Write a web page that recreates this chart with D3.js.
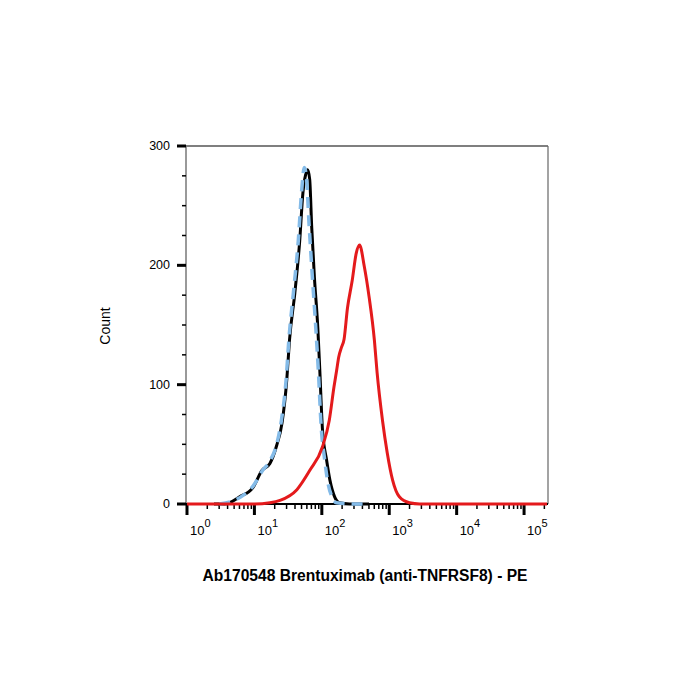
<!DOCTYPE html>
<html>
<head>
<meta charset="utf-8">
<script src="https://cdn.jsdelivr.net/npm/d3@7"></script>
<style>
  body { margin: 0; background: #fff; }
  text { font-family: "Liberation Sans", Arial, sans-serif; }
</style>
</head>
<body>
<script>
// Histogram data: x = log10(PE intensity), y = count
var isoX = [0.40, 0.56, 0.78, 0.98, 1.11, 1.23, 1.33, 1.41, 1.48, 1.52, 1.60, 1.67, 1.72, 1.76, 1.79, 1.82, 1.85, 1.89, 1.94, 1.97, 2.01, 2.07, 2.12, 2.19, 2.26, 2.41, 2.70];
var isoY = [0, 0, 6, 14, 28, 34, 49, 68, 104, 137, 177, 219, 261, 276, 280, 272, 232, 190, 148, 112, 62, 37, 20, 6, 1, 0, 0];

var blankX = [0.48, 0.65, 0.80, 0.98, 1.12, 1.23, 1.33, 1.40, 1.47, 1.51, 1.58, 1.65, 1.70, 1.74, 1.77, 1.81, 1.86, 1.91, 1.95, 1.99, 2.04, 2.09, 2.15, 2.22, 2.50, 2.70];
var blankY = [0, 2, 6, 15, 28, 36, 50, 70, 104, 137, 178, 220, 262, 282, 275, 235, 190, 148, 110, 65, 38, 18, 6, 1, 0, 0];

var abX = [0.0, 1.0, 1.23, 1.38, 1.63, 1.82, 2.01, 2.11, 2.18, 2.22, 2.25, 2.29, 2.33, 2.38, 2.45, 2.51, 2.56, 2.63, 2.70, 2.78, 2.82, 2.90, 2.97, 3.05, 3.15, 3.30, 3.45, 5.34];
var abY = [0, 0, 1, 3, 12, 28, 48, 70, 98, 112, 123, 131, 138, 164, 187, 210, 217, 199, 174, 137, 110, 70, 43, 20, 6, 1, 0, 0];

var yMajor = [0, 100, 200, 300];
var yMinor = [25, 50, 75, 125, 150, 175, 225, 250, 275];
var decades = [0, 1, 2, 3, 4, 5];

var xAxisTitle = "Ab170548 Brentuximab (anti-TNFRSF8) - PE";
var yAxisTitle = "Count";

// layout
var pLeft = 186, pRight = 548, pTop = 146, pBottom = 504;

var svg = d3.select("body").append("svg")
  .attr("width", 700)
  .attr("height", 700);

var x = d3.scaleLinear().domain([0, 5.355]).range([pLeft + 1, pRight]);
var y = d3.scaleLinear().domain([0, 300]).range([pBottom, pTop]);

// frame
svg.append("line").attr("x1", pLeft).attr("x2", pRight).attr("y1", pTop).attr("y2", pTop)
  .attr("stroke", "#000").attr("stroke-width", 1.2);
svg.append("line").attr("x1", pRight).attr("x2", pRight).attr("y1", pTop).attr("y2", pBottom)
  .attr("stroke", "#666").attr("stroke-width", 1.2);
svg.append("line").attr("x1", pLeft).attr("x2", pLeft).attr("y1", pTop).attr("y2", pBottom)
  .attr("stroke", "#777").attr("stroke-width", 1.5);
svg.append("line").attr("x1", pLeft - 8).attr("x2", pRight).attr("y1", pBottom).attr("y2", pBottom)
  .attr("stroke", "#000").attr("stroke-width", 2);

// y ticks
svg.selectAll(".ymaj").data(yMajor).enter().append("line")
  .attr("x1", pLeft - 9).attr("x2", pLeft)
  .attr("y1", d => y(d)).attr("y2", d => y(d))
  .attr("stroke", "#000").attr("stroke-width", 3);
svg.selectAll(".ymin").data(yMinor).enter().append("line")
  .attr("x1", pLeft - 4).attr("x2", pLeft)
  .attr("y1", d => y(d)).attr("y2", d => y(d))
  .attr("stroke", "#000").attr("stroke-width", 1.5);
svg.selectAll(".ylab").data(yMajor).enter().append("text")
  .attr("x", pLeft - 16).attr("y", d => y(d) + 4)
  .attr("text-anchor", "end").attr("font-size", 12.5).attr("fill", "#000")
  .text(d => d);

// x ticks
var minors = [];
decades.forEach(function(d) {
  if (d < 5) for (var k = 2; k <= 9; k++) minors.push(d + Math.log10(k));
});
minors.push(5 + Math.log10(2));
svg.selectAll(".xmin").data(minors).enter().append("line")
  .attr("x1", d => x(d)).attr("x2", d => x(d))
  .attr("y1", pBottom).attr("y2", pBottom + 5)
  .attr("stroke", "#000").attr("stroke-width", 1.5);
svg.selectAll(".xmaj").data(decades).enter().append("line")
  .attr("x1", d => x(d)).attr("x2", d => x(d))
  .attr("y1", pBottom).attr("y2", pBottom + 11)
  .attr("stroke", "#000").attr("stroke-width", 3);
var xl = svg.selectAll(".xlab").data(decades).enter().append("text")
  .attr("x", d => x(d) + 3).attr("y", 535)
  .attr("font-size", 13).attr("fill", "#000");
xl.append("tspan").text("10");
xl.append("tspan").attr("dy", -8).attr("font-size", 11).text(d => d);

// curves
var line = d3.line().x(d => x(d[0])).y(d => y(d[1])).curve(d3.curveMonotoneX);

svg.append("path").datum(d3.zip(isoX, isoY))
  .attr("d", line).attr("fill", "none")
  .attr("stroke", "#000").attr("stroke-width", 3);
svg.append("path").datum(d3.zip(blankX, blankY))
  .attr("d", line).attr("fill", "none")
  .attr("stroke", "#84bbe8").attr("stroke-width", 3.5)
  .attr("stroke-dasharray", "11,7");
svg.append("path").datum(d3.zip(abX, abY))
  .attr("d", line).attr("fill", "none")
  .attr("stroke", "#e41a1c").attr("stroke-width", 3);

// axis titles
svg.append("text")
  .attr("transform", "translate(110,326) rotate(-90)")
  .attr("text-anchor", "middle").attr("font-size", 14).attr("fill", "#000")
  .text(yAxisTitle);
svg.append("text")
  .attr("x", 365).attr("y", 581)
  .attr("text-anchor", "middle").attr("font-size", 15.6).attr("font-weight", "bold")
  .attr("fill", "#000")
  .text(xAxisTitle);
</script>
</body>
</html>
